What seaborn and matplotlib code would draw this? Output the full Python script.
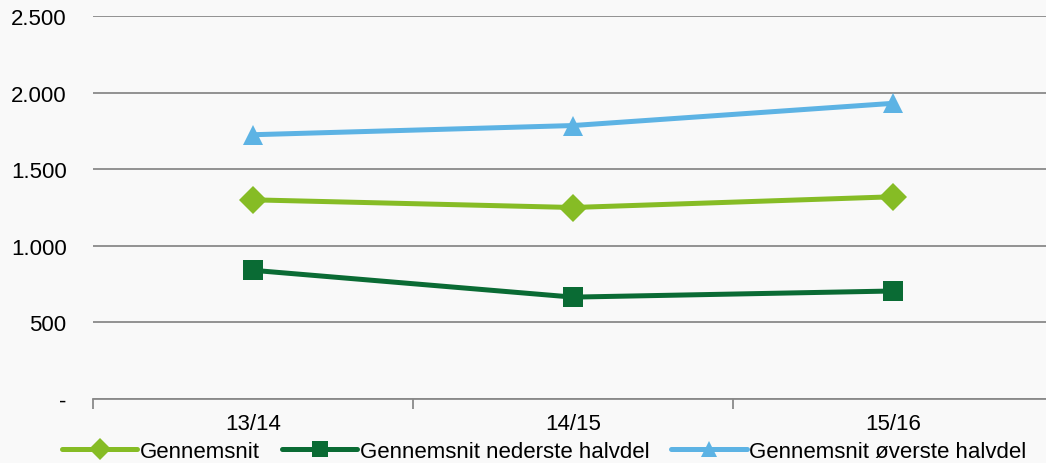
import pandas as pd
import seaborn as sns
import matplotlib.pyplot as plt
from matplotlib.ticker import FuncFormatter, FixedLocator

# Data
years = ["13/14", "14/15", "15/16"]
series_names = ["Gennemsnit", "Gennemsnit nederste halvdel", "Gennemsnit øverste halvdel"]
avg_all = [1300, 1250, 1320]
avg_lower = [840, 665, 705]
avg_upper = [1725, 1785, 1930]

colors = {
    "Gennemsnit": "#86bc25",
    "Gennemsnit nederste halvdel": "#0a6b34",
    "Gennemsnit øverste halvdel": "#5db3e4",
}
markers = {
    "Gennemsnit": "D",
    "Gennemsnit nederste halvdel": "s",
    "Gennemsnit øverste halvdel": "^",
}

# Build long-form table
rows = []
for name, vals in zip(series_names, [avg_all, avg_lower, avg_upper]):
    for yr, v in zip(years, vals):
        rows.append({"year": yr, "value": v, "series": name})
df = pd.DataFrame(rows)

sns.set_style("white")
plt.rcParams["font.family"] = ["Liberation Sans", "DejaVu Sans"]
plt.rcParams["text.color"] = "black"

fig = plt.figure(figsize=(10.46, 4.64), dpi=100, facecolor="#f9f9f9")
ax = fig.add_axes([93 / 1046, 64 / 464, 960 / 1046, 383 / 464])
ax.set_facecolor("#f9f9f9")

sns.lineplot(
    data=df, x="year", y="value", hue="series", style="series",
    palette=colors, markers=markers, dashes=False,
    linewidth=3.6, markersize=14, markeredgewidth=0, ax=ax,
)

ax.set_xlim(-0.5, 2.5)
ax.set_ylim(0, 2500)
ax.set_yticks([0, 500, 1000, 1500, 2000, 2500])
ax.yaxis.set_major_formatter(
    FuncFormatter(lambda v, p: "-" if v == 0 else f"{int(v):,}".replace(",", "."))
)
ax.grid(axis="y", color="#8a8a8a", linewidth=1.3)
ax.set_axisbelow(True)

for s in ["top", "right", "left"]:
    ax.spines[s].set_visible(False)
ax.spines["bottom"].set_color("#8a8a8a")
ax.spines["bottom"].set_linewidth(1.3)

ax.xaxis.set_minor_locator(FixedLocator([-0.5, 0.5, 1.5, 2.5]))
ax.tick_params(axis="x", which="major", length=0, pad=10, labelsize=16,
               labelcolor="black")
ax.tick_params(axis="x", which="minor", bottom=True, direction="out",
               length=7, width=1.3, color="#8a8a8a")
ax.tick_params(axis="y", length=0, pad=19, labelsize=16, labelcolor="black")
ax.set_xlabel("")
ax.set_ylabel("")

handles, labels = ax.get_legend_handles_labels()
leg = ax.legend(
    handles, labels, loc="lower center", bbox_to_anchor=(0.47, -0.2),
    ncol=3, frameon=False, fontsize=16, handlelength=3.4, handletextpad=0.1,
    columnspacing=1.0, markerscale=0.8, borderpad=0.1,
)
for t in leg.get_texts():
    t.set_color("black")

fig.savefig("out.png", dpi=100, facecolor=fig.get_facecolor())
